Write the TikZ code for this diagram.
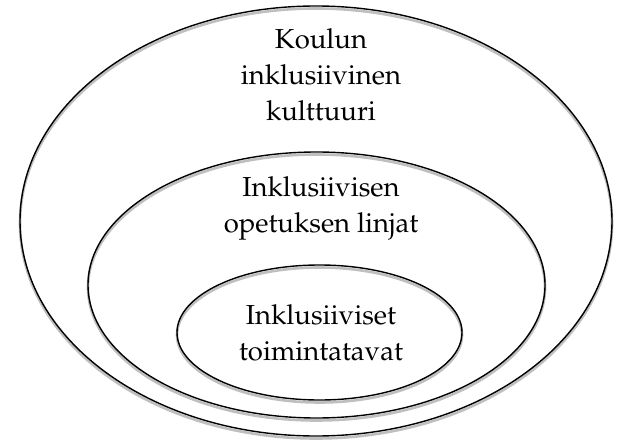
\documentclass[tikz,border=0pt]{standalone}
\usepackage[T1]{fontenc}
\renewcommand{\rmdefault}{ppl}
\usetikzlibrary{shapes.geometric}
\tikzset{
  ring/.style={ellipse, draw=black, line width=1.4pt, fill=none, inner sep=0pt},
  shade/.style={draw=black!25, line width=2.6pt, fill=none},
  lbl/.style={align=center, font=\fontsize{27.5}{36}\selectfont, inner sep=0pt}
}
\begin{document}
\begin{tikzpicture}[x=1pt, y=-1pt]
  \useasboundingbox (0,0) rectangle (620,441);
  % soft shadows under the rings
  \draw[shade] (316,223.5) ellipse [x radius=296, y radius=215];
  \draw[shade] (316.5,287.5) ellipse [x radius=228.5, y radius=133];
  \draw[shade] (319.5,335) ellipse [x radius=142.5, y radius=67.5];
  % nested rings
  \node[ring, minimum width=592pt, minimum height=430pt] (outer) at (316,221) {};
  \node[ring, minimum width=457pt, minimum height=266pt] (middle) at (316.5,285) {};
  \node[ring, minimum width=285pt, minimum height=135pt] (inner) at (319.5,332.5) {};
  % labels
  \node[lbl] (koulu) at (321,75) {Koulun\\inklusiivinen\\kulttuuri};
  \node[lbl] (linjat) at (321,208) {Inklusiivisen\\opetuksen linjat};
  \node[lbl] (tavat) at (321,333) {Inklusiiviset\\toimintatavat};
\end{tikzpicture}
\end{document}
